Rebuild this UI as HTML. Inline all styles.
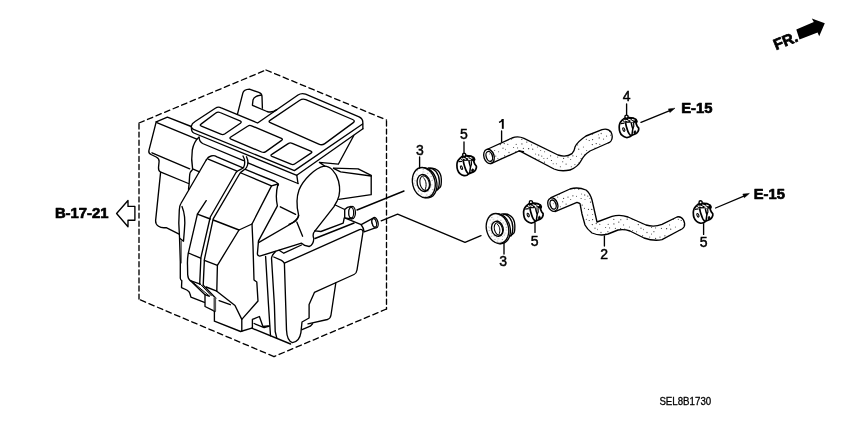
<!DOCTYPE html>
<html>
<head>
<meta charset="utf-8">
<title>Heater unit hoses diagram</title>
<style>
html,body{margin:0;padding:0;background:#fff;}
body{width:850px;height:425px;overflow:hidden;font-family:"Liberation Sans",sans-serif;}
svg{display:block;will-change:transform;}
.ln{fill:none;stroke:#000;stroke-width:1.35;stroke-linecap:round;stroke-linejoin:round;}
.lb{font-family:"Liberation Sans",sans-serif;font-size:14px;fill:#000;text-anchor:middle;stroke:#000;stroke-width:0.45;}
.bd{font-family:"Liberation Sans",sans-serif;font-weight:bold;fill:#000;stroke:#000;stroke-width:0.7;stroke-linejoin:round;}
</style>
</head>
<body>
<svg width="850" height="425" viewBox="0 0 850 425">
<defs>
<pattern id="dots" width="46" height="40" patternUnits="userSpaceOnUse">
<circle cx="7.6" cy="27.6" r="0.5" fill="#333"/>
<circle cx="29.2" cy="19.2" r="0.65" fill="#333"/>
<circle cx="9.9" cy="31.7" r="0.6" fill="#444"/>
<circle cx="37.2" cy="20.5" r="0.55" fill="#222"/>
<circle cx="23.2" cy="9.4" r="0.65" fill="#222"/>
<circle cx="0.1" cy="14.8" r="0.55" fill="#222"/>
<circle cx="26.9" cy="2.8" r="0.55" fill="#444"/>
<circle cx="36.5" cy="9.3" r="0.6" fill="#222"/>
<circle cx="10.7" cy="1.7" r="0.55" fill="#333"/>
<circle cx="45.9" cy="29.5" r="0.65" fill="#555"/>
<circle cx="40.3" cy="24.6" r="0.65" fill="#333"/>
<circle cx="22.9" cy="4.6" r="0.55" fill="#444"/>
<circle cx="5.7" cy="37.1" r="0.55" fill="#555"/>
<circle cx="20.8" cy="22.1" r="0.65" fill="#333"/>
<circle cx="15.8" cy="19.4" r="0.65" fill="#555"/>
<circle cx="39.8" cy="9.4" r="0.6" fill="#222"/>
<circle cx="44.6" cy="35.8" r="0.65" fill="#333"/>
<circle cx="34.7" cy="30.5" r="0.5" fill="#444"/>
<circle cx="26.7" cy="29.2" r="0.65" fill="#444"/>
<circle cx="5.6" cy="19.1" r="0.55" fill="#333"/>
<circle cx="18.8" cy="14.6" r="0.55" fill="#555"/>
<circle cx="1.2" cy="3.7" r="0.55" fill="#555"/>
<circle cx="33.0" cy="39.7" r="0.5" fill="#222"/>
<circle cx="22.8" cy="19.7" r="0.6" fill="#555"/>
<circle cx="10.2" cy="24.4" r="0.55" fill="#555"/>
<circle cx="25.6" cy="24.9" r="0.55" fill="#555"/>
<circle cx="8.3" cy="6.8" r="0.5" fill="#222"/>
<circle cx="16.0" cy="37.1" r="0.6" fill="#333"/>
<circle cx="15.9" cy="23.9" r="0.65" fill="#444"/>
<circle cx="14.1" cy="4.1" r="0.65" fill="#444"/>
<circle cx="3.0" cy="32.5" r="0.65" fill="#555"/>
<circle cx="35.7" cy="15.0" r="0.5" fill="#444"/>
<circle cx="31.4" cy="27.0" r="0.5" fill="#444"/>
<circle cx="41.3" cy="38.3" r="0.6" fill="#555"/>
<circle cx="18.7" cy="39.6" r="0.5" fill="#333"/>
<circle cx="44.2" cy="23.6" r="0.6" fill="#222"/>
<circle cx="40.6" cy="19.6" r="0.6" fill="#333"/>
<circle cx="17.3" cy="9.9" r="0.55" fill="#333"/>
<circle cx="38.5" cy="2.1" r="0.6" fill="#222"/>
<circle cx="11.9" cy="11.6" r="0.6" fill="#333"/>
<circle cx="19.3" cy="6.8" r="0.55" fill="#333"/>
<circle cx="3.2" cy="13.5" r="0.65" fill="#555"/>
<circle cx="34.3" cy="19.2" r="0.55" fill="#222"/>
<circle cx="11.6" cy="38.4" r="0.6" fill="#444"/>
<circle cx="1.3" cy="8.5" r="0.5" fill="#333"/>
<circle cx="38.6" cy="31.8" r="0.55" fill="#444"/>
<circle cx="29.6" cy="34.1" r="0.5" fill="#444"/>
<circle cx="26.9" cy="10.3" r="0.65" fill="#222"/>
<circle cx="41.7" cy="5.3" r="0.5" fill="#222"/>
<circle cx="4.4" cy="3.8" r="0.55" fill="#555"/>
<circle cx="1.2" cy="17.9" r="0.65" fill="#444"/>
<circle cx="30.1" cy="5.1" r="0.65" fill="#222"/>
<circle cx="24.8" cy="13.0" r="0.6" fill="#333"/>
<circle cx="17.4" cy="28.4" r="0.6" fill="#555"/>
<circle cx="32.7" cy="35.0" r="0.65" fill="#555"/>
<circle cx="11.6" cy="27.9" r="0.55" fill="#555"/>
<circle cx="29.1" cy="38.5" r="0.55" fill="#222"/>
<circle cx="22.6" cy="28.7" r="0.65" fill="#333"/>
<circle cx="37.9" cy="38.5" r="0.5" fill="#444"/>
<circle cx="45.5" cy="0.3" r="0.65" fill="#333"/>
<circle cx="32.4" cy="8.2" r="0.55" fill="#222"/>
<circle cx="12.8" cy="15.2" r="0.6" fill="#444"/>
<circle cx="43.0" cy="28.2" r="0.6" fill="#444"/>
<circle cx="1.8" cy="24.3" r="0.55" fill="#222"/>
<circle cx="20.9" cy="35.8" r="0.65" fill="#333"/>
<circle cx="8.6" cy="16.1" r="0.55" fill="#333"/>
<circle cx="7.5" cy="34.0" r="0.5" fill="#333"/>
<circle cx="35.8" cy="36.1" r="0.55" fill="#333"/>
<circle cx="24.5" cy="36.3" r="0.5" fill="#333"/>
<circle cx="40.6" cy="14.5" r="0.5" fill="#555"/>
</pattern>
<pattern id="dots2" width="20" height="20" patternUnits="userSpaceOnUse"><circle cx="12.5" cy="14.8" r="0.5" fill="#666"/><circle cx="15.9" cy="18.8" r="0.5" fill="#666"/><circle cx="0.6" cy="9.3" r="0.5" fill="#666"/><circle cx="18.9" cy="13.0" r="0.5" fill="#666"/><circle cx="18.0" cy="2.3" r="0.5" fill="#666"/><circle cx="9.4" cy="4.9" r="0.5" fill="#666"/><circle cx="10.9" cy="11.5" r="0.5" fill="#666"/><circle cx="0.3" cy="4.3" r="0.5" fill="#666"/><circle cx="5.6" cy="18.3" r="0.5" fill="#666"/><circle cx="15.3" cy="3.2" r="0.5" fill="#666"/><circle cx="12.3" cy="2.5" r="0.5" fill="#666"/><circle cx="0.0" cy="17.4" r="0.5" fill="#666"/><circle cx="4.2" cy="4.3" r="0.5" fill="#666"/><circle cx="17.9" cy="6.0" r="0.5" fill="#666"/><circle cx="7.2" cy="3.3" r="0.5" fill="#666"/><circle cx="2.9" cy="1.3" r="0.5" fill="#666"/><circle cx="6.0" cy="12.1" r="0.5" fill="#666"/><circle cx="6.8" cy="6.2" r="0.5" fill="#666"/><circle cx="16.4" cy="9.6" r="0.5" fill="#666"/><circle cx="6.3" cy="9.6" r="0.5" fill="#666"/><circle cx="14.1" cy="1.1" r="0.5" fill="#666"/><circle cx="19.5" cy="0.5" r="0.5" fill="#666"/><circle cx="3.9" cy="15.1" r="0.5" fill="#666"/><circle cx="1.8" cy="6.8" r="0.5" fill="#666"/><circle cx="12.2" cy="18.4" r="0.5" fill="#666"/><circle cx="9.1" cy="8.4" r="0.5" fill="#666"/><circle cx="9.8" cy="14.6" r="0.5" fill="#666"/><circle cx="7.5" cy="19.8" r="0.5" fill="#666"/><circle cx="7.2" cy="15.7" r="0.5" fill="#666"/><circle cx="15.5" cy="13.9" r="0.5" fill="#666"/><circle cx="14.8" cy="16.6" r="0.5" fill="#666"/><circle cx="13.3" cy="8.4" r="0.5" fill="#666"/><circle cx="2.3" cy="16.6" r="0.5" fill="#666"/><circle cx="10.9" cy="6.8" r="0.5" fill="#666"/></pattern>
<g id="clamp">
<path d="M-5,-9.3 L-7.2,-7.4 C-8.5,-6 -9.3,-5 -9.5,-4.4 C-10,-3 -10.3,-2 -10.2,-0.6 C-10.2,1.5 -10,3 -9.5,4.3 C-9,6 -8,7.2 -6.9,8.1 C-5.8,9 -4.5,9.6 -3.1,9.9 C-2,10 -0.8,9.8 0.3,9.2 L2.6,7.7 L6.3,6.2 C7.5,5.5 8.2,4.8 8.6,3.9 C9.2,2.8 9.5,1.6 9.3,0.5 L7.8,-1.4 L6.7,-4 L7.5,-6.3 L6.7,-8.1 L3.7,-9.6 L-0.5,-10 Z" fill="#fff" stroke="#000" stroke-width="1.7" stroke-linejoin="round"/>
<path d="M-6.8,-7.2 L-5,-9.3 L-0.5,-10 L3.7,-9.6 L6.7,-8.1 L7.5,-6.3 L6.9,-4.8 L2,-5.4 L-4.4,-5.2 Z" fill="#000" stroke="#000" stroke-width="0.8" stroke-linejoin="round"/>
<path d="M-3.6,-7.4 L-1.4,-6.5 M-0.8,-8.4 L1.8,-7.4 M3.0,-8.2 L4.8,-7.5 M1.4,-6.4 L3.4,-5.9 M-5.4,-7.4 L-4.6,-6.6" fill="none" stroke="#fff" stroke-width="1.1" stroke-linecap="round"/>
<path d="M-3.9,-5 C-3.4,-2 -2.8,0 -2.3,1.3 C-1.8,3 -1.2,4.5 -0.5,5.8 C0.2,7 1,7.8 1.8,8.4" fill="none" stroke="#000" stroke-width="1.7"/>
<path d="M1.8,-5 C2.2,-2.5 2.9,-0.2 3.4,1.2 C3.2,3 2.7,5 2.6,7.7" fill="none" stroke="#000" stroke-width="1.5"/>
<path d="M-8.6,-4.0 L-5.0,-4.4" fill="none" stroke="#000" stroke-width="1.2"/>
<path d="M3.4,1.2 L4.4,-1.2 L4.2,-4.6" fill="none" stroke="#000" stroke-width="1.2"/>
<ellipse cx="-5.6" cy="2.0" rx="0.9" ry="1.9" transform="rotate(-22 -5.6 2.0)" fill="none" stroke="#000" stroke-width="1.1"/>
<ellipse cx="5.5" cy="4.6" rx="0.9" ry="1.5" transform="rotate(15 5.5 4.6)" fill="#000" stroke="#000" stroke-width="0.8"/>
<circle cx="-2.9" cy="-10.9" r="1.6" fill="#fff" stroke="#000" stroke-width="1.4"/>
</g>
</defs>

<!-- ============ dashed boundary ============ -->
<g class="ln" stroke-linecap="butt">
<path d="M139,123 L266,70" stroke-dasharray="5.6 3.65"/>
<path d="M266,70 L386.5,120" stroke-dasharray="5.6 3.7"/>
<path d="M386.5,120 L386.5,309" stroke-dasharray="5 3.1" stroke-dashoffset="-1"/>
<path d="M386.5,309 L274,356.6" stroke-dasharray="5.6 3.65"/>
<path d="M274,356.6 L139,299.4" stroke-dasharray="5.6 3.7"/>
<path d="M139,123 L139,299.4" stroke-dasharray="5 3.1" stroke-dashoffset="-1"/>
</g>

<!-- ============ heater unit ============ -->
<g id="heater" class="ln">
<!-- left block -->
<path d="M156.2,121.8 L167.4,117.1 L191.2,126.5"/>
<path d="M156.8,122.6 L196.8,139.2"/>
<path d="M156.2,121.8 L148.9,150.6 Q148.3,153.2 151,154.5 L156.2,157 Q159.4,158.6 159.1,161.5 L158.5,167.6 Q158.4,171 160.3,171.8 L188.5,183.5"/>
<path d="M152,152.8 L189.7,168.8"/>
<path d="M160.6,172.4 L155.6,220.6 Q155.4,224.2 158.5,226.3 Q161.5,228.3 166.2,227.6 L179.1,234.1"/>
<!-- body left curve -->
<path d="M199.1,137.1 Q194,141.5 192.3,150 Q191,159.5 192.6,168.8 L199.5,171.8"/>
<path d="M192.6,169.5 Q189.6,172 189.6,176 L189.1,184.1 L188.5,189.4"/>
<path d="M199.1,137.1 Q199,141.5 202.6,143.5 L243.5,160.6 M247.9,162.9 L298,183.5"/>
<path d="M296.8,175.3 L298,183.5"/>
<!-- frame -->
<path d="M191.2,126.5 Q192,123 194.7,121.8 L215.3,108.2 Q218.2,106.3 221.2,107.8 L257.6,123 L298,95 Q301.6,92.6 305.6,94.2 L359.1,116.8 Q362.8,118.6 362.8,122 L362.9,128.8"/>
<path d="M191.2,126.5 Q191.6,128.6 193.5,129.3 L294.4,170.6 L362.6,124"/>
<path d="M191.4,127.5 Q191.4,132 193.8,133 L296.8,175.3 L362.9,128.8"/>
<!-- tab -->
<path d="M237.4,114.4 L242.9,92.9 Q243.8,89.6 249.4,89.2 L258.8,92.4 Q262,93.5 262,96.5 L262.4,108.2"/>
<path d="M261.5,95 Q254,96 253,100 L252.4,105.3 L267,111.5 Q272,113.2 276.8,109.6"/>
<!-- cells -->
<path d="M201,124.1 L215.8,113 Q217.8,111.5 220,112.5 L240,120.9 Q242.2,121.9 240.4,123.2 L225,133.8 Q223,135.1 220.8,134.2 L201.4,126.2 Q199.2,125.3 201,124.1 Z"/>
<path d="M230.8,137 L247.6,126.2 Q249.5,124.9 251.6,125.8 L281.4,138.3 Q283.4,139.2 281.6,140.4 L265.8,151.6 Q263.8,153 261.6,152 L231,139.2 Q229,138.2 230.8,137 Z"/>
<path d="M271.8,154.4 L288.2,143.6 Q290.1,142.4 292.2,143.3 L310.8,151.1 Q312.8,152 311,153.1 L295,163.8 Q293.1,165.1 291,164.2 L272,156.4 Q270,155.5 271.8,154.4 Z"/>
<path d="M270,120.4 L299.8,100.2 Q302.6,98.3 305.8,99.6 L352.6,119.5 Q355.8,120.8 353,122.9 L324.8,143.6 Q322,145.6 318.8,144.2 L270.8,122.9 Q267.8,121.8 270,120.4 Z"/>
<!-- triangle / flap -->
<path d="M353.8,135.5 L338.3,164.2 L319.4,162.4 L325,166.3"/>
<!-- blower arc -->
<path d="M324.1,166.2 C315,168 303,180 299,190 C296.5,197 296.5,206 298.5,214.4 Q299,217 296.2,219.7 Q293,223 289,224.4"/>
<path d="M324.1,166.2 C330,166 336,172 338.5,181 C340.5,189 339.5,196 337.4,200.3 L333.8,206.8 L315,230.9"/>
<!-- duct box -->
<path d="M333.5,168.2 L358.2,168.8 L371.2,175.3 L371.2,194.7 L338.8,199.4"/>
<path d="M333.5,168.4 L340.6,171.8 L371.2,176"/>
<!-- pipe 1 -->
<path d="M335.3,205 L344.7,209.5 L344.7,217.8 L351.5,218.8 M344.7,209.5 Q347,206.8 351,206.4"/>
<ellipse cx="352.1" cy="212.6" rx="3.3" ry="6.2" fill="#fff"/>
<ellipse cx="351.2" cy="212.7" rx="2.4" ry="5.2" fill="#fff" stroke-width="1.1"/>
<!-- pipe 2 -->
<path d="M361.2,224.7 L371.8,218.8 M364.1,231.8 L375.3,227.8 M361.2,224.7 Q363.5,227.5 364.1,231.8"/>
<ellipse cx="375" cy="222.7" rx="3" ry="5.3" transform="rotate(-14 375 222.7)" fill="#fff"/>
<ellipse cx="374.3" cy="222.9" rx="2.1" ry="4.3" transform="rotate(-14 374.3 222.9)" fill="#fff" stroke-width="1.1"/>
<path d="M345.3,218.2 L361.2,224.7"/>
<path d="M315,230.9 L320.9,231.5 L343.2,223.2 L344.2,218"/>
<path d="M315,238.5 L354.1,223"/>
<!-- core box -->
<path d="M284.4,263.2 L359.5,229.6 Q362.7,228.6 363,232 L357,270 Q356.5,273.4 354,274.5 L314.4,292.4 L309.1,304.4 L309.1,318 L302,322 L300.9,332.6 Q299.5,341.5 292.5,342.6 Q287,341 286.5,330 Z"/>
<path d="M335.8,283 L331,315 Q330.5,318.5 327.4,319.5 L308,323.8"/>
<path d="M302,329.7 L310.3,326.2 L312.6,323.8"/>
<path d="M284.4,263.2 Q283.5,261.5 281.5,260.3 L273.8,257"/>
<path d="M265.6,256.5 L268.5,305 L270.5,335.8"/>
<path d="M275.6,251.5 Q272,255 271.5,258 L274.4,305 L275.2,331.5 L276.8,338.2"/>
<path d="M251.8,328.2 L290.6,344"/>
<!-- region between panel & core -->
<path d="M278,184 Q275,195 277.4,205.9 L258.5,240.9 L257.4,253.8 Q257.5,256 259.7,256.2 L301.5,243.2 Q304,245.8 309.1,246.5 Q313.5,245 313.8,238.5 Q312,234 315,230.9"/>
<path d="M258.5,242.6 L295,221.5 Q298,219 298.8,215.5"/>
<path d="M296.8,222 L302.6,236.2"/>
<path d="M279.1,250.3 L283.8,253.2 L301.5,245"/>
<path d="M280.3,206.8 L295.6,214.4"/>
<!-- panel -->
<path d="M206.2,160 Q208,156.8 211,156 Q214,155 217,156.8 L243,167.8 M245.3,169.4 L275,181.5 Q278,183 278.5,185"/>
<path d="M208.2,159.1 L236.5,170.9 M241,173 L271.5,185.9 L278,184"/>
<path d="M271.5,185.9 L252,224 L239,230 L213.2,220"/>
<path d="M239,230 L217.4,265.3 L204.4,260.4"/>
<path d="M217.4,265.3 L216.8,291.2"/>
<path d="M252,224 L253,246 L254,280 L256.8,282 L258,301 L254.7,304.7 L241.8,319.4"/>
<path d="M206.2,160 L180.9,203.5 Q179.3,206 179.3,210 L178.8,223 L179.5,237 L180.3,261.8 L180.3,278.2 Q180.5,280 181.8,280.6 L181.5,287.6 L186.8,290 Q189.5,291.5 189.9,293.5 L190.9,297.1 L204.4,302.4"/>
<path d="M182,206.5 Q186,216 184.4,230 L183.5,241.2 L179.7,238.2"/>
<path d="M181.2,241 L181.2,263" stroke-width="0.8"/>
<path d="M243,156 C245.5,160 245,165 243.5,167.6 C242,169.5 238,170 236,172.5 L210.3,217 L200.9,257.6 L199.7,284.1"/>
<path d="M246.5,156.8 C248.5,161 248,165 246.5,167.5 C245,170 241,171 239.5,174 L213.2,218.8 L204.4,259.4 L203.2,285.3"/>
<path d="M206.2,200.6 L197.4,214.1 L188.5,252.4 Q187.2,258 187.5,265 L187.7,274.7 Q188,279 190.3,280.6 L200.3,284.1"/>
<path d="M197.4,214.1 L210.3,219"/>
<path d="M188.5,253 L200.6,258.2"/>
<!-- bottom details -->
<path d="M190.3,280.6 L205,294.7 L205,306.5 L214.4,311.2"/>
<path d="M191.6,281.2 L209.6,296.2 M200.2,284 L211.4,295.8" stroke-width="1"/>
<path d="M203.2,285.3 L215.8,298.2 M205,294.7 L209,296.2"/>
<path d="M214.8,298.4 L214.8,311" stroke-width="2.6" stroke="#555"/>
<path d="M206.2,287 L216.8,291.2 L235,305.5 L241.8,319.4 L241.8,331.2"/>
<path d="M219.1,300.6 L230.3,304.7"/>
<path d="M214.4,311.2 L214.4,321.2 L240.6,331.5 L251.8,328.2"/>
<path d="M252.4,328.2 L252.4,319.4 L259.4,316.5 L262.9,326.5 L268.2,325.9"/>
<path d="M254.1,323.5 L264.1,327.6 L269.5,326"/>
</g>

<!-- leader lines from heater -->
<path class="ln" d="M357,210 L404,191"/>
<path class="ln" d="M381.2,220.8 L397.6,214.1 L465,242.4 L481,235.6"/>

<!-- ============ grommets ============ -->
<g id="grom1" class="ln" stroke-width="1.3">
<path d="M429.9,168.5 C436,167 441,172 441.3,179 C441.5,184 440.5,187 440,187.5 L435.7,190.7"/>
<path d="M428.5,168 C434.5,168 439,173.5 439.3,181 C439.4,185.5 438.5,188.5 437.5,190"/>
<ellipse cx="425.5" cy="182.8" rx="11.2" ry="15.3" transform="rotate(-14 425.5 182.8)" fill="#fff"/>
<ellipse cx="423.8" cy="182.6" rx="11.2" ry="15.3" transform="rotate(-14 423.8 182.6)" fill="#fff"/>
<ellipse cx="423.8" cy="182.6" rx="11.2" ry="15.3" transform="rotate(-14 423.8 182.6)" fill="url(#dots2)" stroke="none"/>
<ellipse cx="423.6" cy="183" rx="6.4" ry="8.6" transform="rotate(-14 423.6 183)" fill="#fff"/>
<ellipse cx="424.6" cy="183.2" rx="4.6" ry="7.4" transform="rotate(-14 424.6 183.2)" fill="none" stroke-width="1.1"/>
<path d="M423.4,177.6 C426.2,180.2 427,185.2 425.2,189.6" stroke-width="1"/>
</g>
<g id="grom2" class="ln" stroke-width="1.3">
<path d="M503.5,214.2 C509.5,213 514.5,218 514.8,225 C515,230 514,233 513.5,233.5 L509.2,236.7"/>
<path d="M502,213.8 C508,214 512.5,219.5 512.8,227 C512.9,231.5 512,234.5 511,236"/>
<ellipse cx="499.1" cy="228.7" rx="11" ry="15.2" transform="rotate(-14 499.1 228.7)" fill="#fff"/>
<ellipse cx="497.5" cy="228.5" rx="11" ry="15.2" transform="rotate(-14 497.5 228.5)" fill="#fff"/>
<ellipse cx="497.5" cy="228.5" rx="11" ry="15.2" transform="rotate(-14 497.5 228.5)" fill="url(#dots2)" stroke="none"/>
<ellipse cx="497.4" cy="228.8" rx="5.8" ry="7.6" transform="rotate(-14 497.4 228.8)" fill="#fff"/>
<ellipse cx="498.4" cy="229" rx="4" ry="6.4" transform="rotate(-14 498.4 229)" fill="none" stroke-width="1.1"/>
<path d="M497.4,224.2 C500,226.6 500.6,230.8 499,234.6" stroke-width="1"/>
</g>

<!-- ============ hoses ============ -->
<g id="hose1">
<path id="h1p" d="M488,149 L512,138 Q518,135.6 524,138.4 L558,155 Q566,157.8 572,153.6 Q574.5,151 575,147 Q577,142 586,136 L602,129.6 Q608,128 611,132 Q613.5,137 611,141 Q610,142.5 608,143 L590,151 Q584,155 581.5,160 Q578,167 570,170 Q561,172 554,169 L521,151.6 L519,151 L491,163.6 Z" fill="#fff" stroke="none"/>
<path d="M488,149 L512,138 Q518,135.6 524,138.4 L558,155 Q566,157.8 572,153.6 Q574.5,151 575,147 Q577,142 586,136 L602,129.6 Q608,128 611,132 Q613.5,137 611,141 Q610,142.5 608,143 L590,151 Q584,155 581.5,160 Q578,167 570,170 Q561,172 554,169 L521,151.6 L519,151 L491,163.6 Z" fill="url(#dots)" stroke="none"/>
<path class="ln" stroke-width="1.5" d="M488,149 L512,138 Q518,135.6 524,138.4 L558,155 Q566,157.8 572,153.6 Q574.5,151 575,147 Q577,142 586,136 L602,129.6 Q608,128 611,132 Q613.5,137 611,141 Q610,142.5 608,143 L590,151 Q584,155 581.5,160 Q578,167 570,170 Q561,172 554,169 L521,151.6 L519,151 L491,163.6"/>
<path class="ln" d="M519,151 L523.5,151.6"/>
<ellipse class="ln" stroke-width="1.7" cx="489" cy="156.4" rx="5.1" ry="7.3" transform="rotate(-18 489 156.4)" fill="#fff"/>
<ellipse class="ln" stroke-width="1.2" cx="489.3" cy="156.4" rx="3.1" ry="5.1" transform="rotate(-18 489.3 156.4)" fill="#fff"/>
</g>
<g id="hose2">
<path d="M551,197.6 L570,189 Q578,186.6 586,190 Q590,193 592,200 L597,222 L612,216.4 Q620,214 628,217 L646,225 Q654,227.4 662,224.4 L677,217 Q681,216 683.5,220 Q685.5,224 684,227 Q682.5,229.5 680,230 L662,239.6 Q654,241.4 644,238 L630,231 Q624,228.8 618,230 L608,234 Q600,236.4 592,233 Q587,229 585,225 L582,214 L580,203.6 L577,202.4 L555,211.6 Z" fill="#fff" stroke="none"/>
<path d="M551,197.6 L570,189 Q578,186.6 586,190 Q590,193 592,200 L597,222 L612,216.4 Q620,214 628,217 L646,225 Q654,227.4 662,224.4 L677,217 Q681,216 683.5,220 Q685.5,224 684,227 Q682.5,229.5 680,230 L662,239.6 Q654,241.4 644,238 L630,231 Q624,228.8 618,230 L608,234 Q600,236.4 592,233 Q587,229 585,225 L582,214 L580,203.6 L577,202.4 L555,211.6 Z" fill="url(#dots)" stroke="none"/>
<path class="ln" stroke-width="1.5" d="M551,197.6 L570,189 Q578,186.6 586,190 Q590,193 592,200 L597,222 L612,216.4 Q620,214 628,217 L646,225 Q654,227.4 662,224.4 L677,217 Q681,216 683.5,220 Q685.5,224 684,227 Q682.5,229.5 680,230 L662,239.6 Q654,241.4 644,238 L630,231 Q624,228.8 618,230 L608,234 Q600,236.4 592,233 Q587,229 585,225 L582,214 L580,203.6 L577,202.4 L555,211.6"/>
<ellipse class="ln" stroke-width="1.7" cx="552.8" cy="204.6" rx="4.9" ry="6.9" transform="rotate(-18 552.8 204.6)" fill="#fff"/>
<ellipse class="ln" stroke-width="1.2" cx="553.1" cy="204.6" rx="2.9" ry="4.7" transform="rotate(-18 553.1 204.6)" fill="#fff"/>
</g>

<!-- ============ clamps ============ -->
<use href="#clamp" x="467.1" y="165.7"/>
<use href="#clamp" x="629.4" y="127.6"/>
<use href="#clamp" x="533.8" y="213.1"/>
<use href="#clamp" x="703.5" y="213.3"/>

<!-- ============ leaders / arrows ============ -->
<g class="ln" stroke-width="1.3">
<path d="M419.6,157 L419.6,168"/>
<path d="M464,142 L464,152.4"/>
<path d="M501.6,131 L501.6,142"/>
<path d="M626.6,104 L626.6,114.6"/>
<path d="M535,223 L535,232.4"/>
<path d="M504,243.5 L504,254"/>
<path d="M604.4,236 L604.4,246"/>
<path d="M703.6,223.6 L703.6,234.4"/>
<path d="M641,122.4 L671,110.2"/>
<path d="M715.6,208 L745.6,195.3"/>
</g>
<path d="M675,108.2 L668.4,108.9 L669.9,112.6 Z" fill="#000" stroke="#000" stroke-width="0.5" stroke-linejoin="round"/>
<path d="M749.4,193.4 L742.8,194.1 L744.3,197.8 Z" fill="#000" stroke="#000" stroke-width="0.5" stroke-linejoin="round"/>

<!-- ============ labels ============ -->
<text class="lb" x="419.8" y="154.7">3</text>
<text class="lb" x="463.8" y="139.3">5</text>
<path d="M502.8,119 L502.8,128.8" fill="none" stroke="#000" stroke-width="1.9"/>
<path d="M502.6,119.2 Q501.6,121.6 499,122.4" fill="none" stroke="#000" stroke-width="1.5"/>
<text class="lb" x="626.6" y="101.3">4</text>
<text class="lb" x="534.6" y="245.9">5</text>
<text class="lb" x="503.2" y="266">3</text>
<text class="lb" x="604.2" y="258.6">2</text>
<text class="lb" x="703.6" y="246.8">5</text>
<text class="bd" x="681.2" y="113.4" font-size="14.4" textLength="31.2" lengthAdjust="spacingAndGlyphs">E-15</text>
<text class="bd" x="753.8" y="199.2" font-size="14.4" textLength="31" lengthAdjust="spacingAndGlyphs">E-15</text>
<text class="bd" x="54.9" y="217.7" font-size="14.6" textLength="53.6" lengthAdjust="spacingAndGlyphs">B-17-21</text>
<text x="659.4" y="404.6" font-family="Liberation Sans, sans-serif" font-size="10.6" textLength="51.8" lengthAdjust="spacingAndGlyphs" fill="#000" stroke="#000" stroke-width="0.3">SEL8B1730</text>

<!-- hollow arrow -->
<path class="ln" stroke-width="1.3" stroke-linejoin="miter" d="M116.6,213.5 L128,200.5 L128,206.4 L134.9,206.4 L134.9,220.2 L128,220.2 L128,226.7 Z"/>

<!-- FR arrow -->
<path d="M796.3,29.5 L813.8,22 L811.8,18.4 L824.8,23.3 L819.2,36.2 L817.6,32.4 L799.5,39.5 Z" fill="#000"/>
<text class="bd" x="0" y="0" font-size="15.4" transform="translate(776,50.3) rotate(-22)" stroke="#000" stroke-width="1.1" stroke-linejoin="round">FR.</text>
</svg>
</body>
</html>
